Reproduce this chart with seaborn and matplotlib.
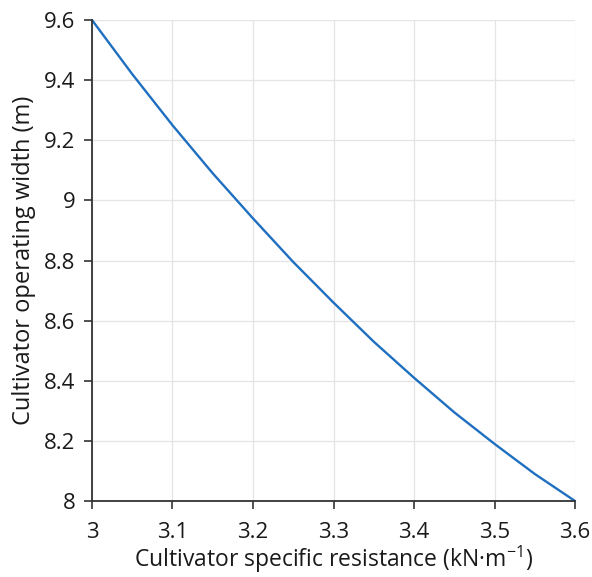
import matplotlib
matplotlib.use("Agg")
import matplotlib.pyplot as plt
import seaborn as sns
import pandas as pd

# Specific resistance of the cultivator (kN/m) and resulting operating width (m)
resistance = [3.00, 3.05, 3.10, 3.15, 3.20, 3.25, 3.30, 3.35, 3.40, 3.45, 3.50, 3.55, 3.60]
width = [9.60, 9.42, 9.25, 9.09, 8.94, 8.795, 8.66, 8.53, 8.41, 8.295, 8.19, 8.09, 8.00]

x_ticks = [3.0, 3.1, 3.2, 3.3, 3.4, 3.5, 3.6]
x_tick_labels = ["3", "3.1", "3.2", "3.3", "3.4", "3.5", "3.6"]
y_ticks = [8.0, 8.2, 8.4, 8.6, 8.8, 9.0, 9.2, 9.4, 9.6]
y_tick_labels = ["8", "8.2", "8.4", "8.6", "8.8", "9", "9.2", "9.4", "9.6"]

df = pd.DataFrame({"resistance": resistance, "width": width})

sns.set_theme(style="whitegrid")
plt.rcParams["font.family"] = ["Open Sans", "DejaVu Sans"]
plt.rcParams["mathtext.default"] = "regular"

fig = plt.figure(figsize=(5.92, 5.77), dpi=100)
ax = fig.add_axes([0.1554, 0.1317, 0.8159, 0.8336])

sns.lineplot(data=df, x="resistance", y="width", ax=ax, color="#1f6fc0",
             linewidth=1.7, clip_on=False)

ax.set_xlim(3.0, 3.6)
ax.set_ylim(8.0, 9.6)
ax.set_xticks(x_ticks)
ax.set_xticklabels(x_tick_labels)
ax.set_yticks(y_ticks)
ax.set_yticklabels(y_tick_labels)

ax.grid(True, color="#e4e4e4", linewidth=0.9)
ax.set_facecolor("white")
for side in ["top", "right"]:
    ax.spines[side].set_visible(False)
for side in ["left", "bottom"]:
    ax.spines[side].set_visible(True)
    ax.spines[side].set_color("#333333")
    ax.spines[side].set_linewidth(1.3)

ax.tick_params(axis="both", which="major", direction="out", length=6, width=1.2,
               color="#333333", labelsize=16, labelcolor="#1a1a1a",
               bottom=True, left=True)
ax.tick_params(axis="y", pad=6)
ax.tick_params(axis="x", pad=9)

ax.set_xlabel("Cultivator specific resistance (kN·m$^{-1}$)", fontsize=16.5,
              color="#1a1a1a", labelpad=1)
ax.set_ylabel("Cultivator operating width (m)", fontsize=17,
              color="#1a1a1a", labelpad=6)

fig.savefig("out.png", dpi=100, facecolor="white")
